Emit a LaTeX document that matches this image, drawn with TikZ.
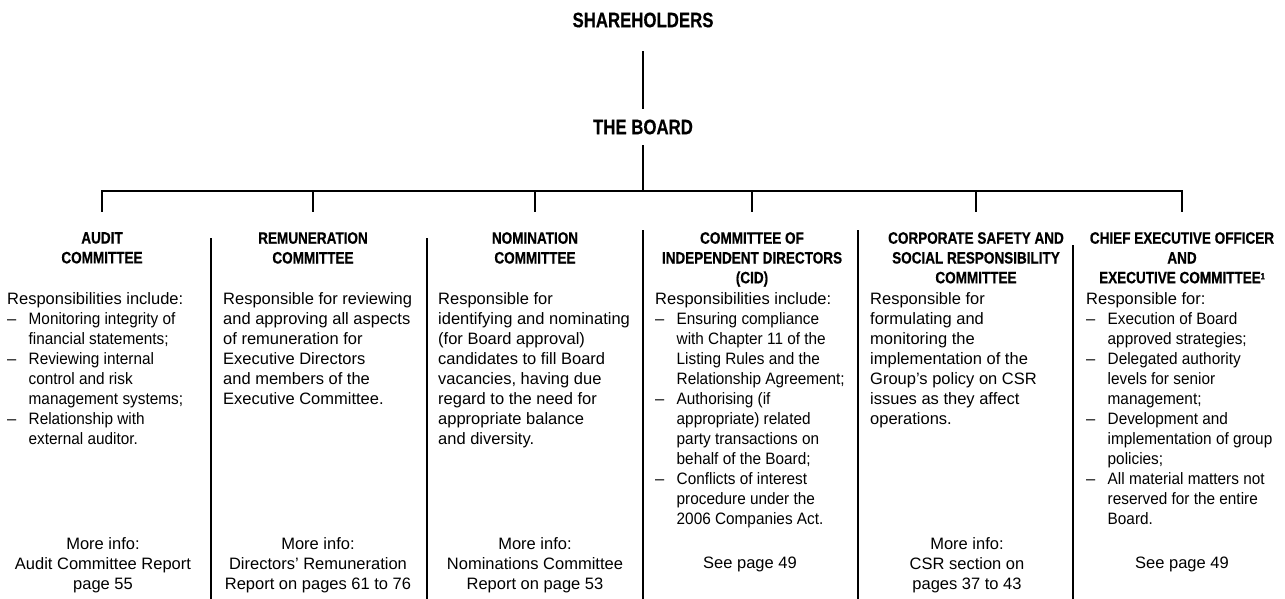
\documentclass[tikz,border=0pt]{standalone}
\usepackage{fontspec}
\setmainfont{Liberation Sans}
\newfontfamily\hdfont[FakeStretch=0.82,FakeBold=0.6]{Liberation Sans}
\newfontfamily\topfont[FakeStretch=0.8,FakeBold=0.4]{Liberation Sans}
\newfontfamily\bulfont[FakeStretch=0.93]{Liberation Sans}
\newcommand{\bl}[1]{\makebox[21.5pt][l]{–}{\bulfont #1}}
\newcommand{\ct}[1]{\hspace*{21.5pt}{\bulfont #1}}
\newcommand{\fnmark}{\raisebox{4pt}{\fontsize{9}{9}\selectfont 1}}
\begin{document}
\begin{tikzpicture}[x=1pt,y=-1pt,
  tree/.style={line width=1.7pt},
  sepline/.style={line width=1.1pt},
  topbox/.style={font=\topfont\bfseries\fontsize{21}{24}\selectfont, inner xsep=0pt, align=center},
  headbox/.style={font=\hdfont\bfseries\fontsize{16.5}{19.8}\selectfont, inner sep=0pt, align=center, anchor=north},
  bodybox/.style={font=\fontsize{16.5}{20}\selectfont, inner sep=0pt, align=left, anchor=north west},
  footbox/.style={font=\fontsize{16.5}{20}\selectfont, inner sep=0pt, align=center, anchor=north},
  drop/.style={tree, shorten >=20pt}
]
\useasboundingbox (0,0) rectangle (1285,599);

% top of the tree
\node[topbox, inner ysep=23.5pt] (sh) at (643,20) {SHAREHOLDERS};
\node[topbox, inner ysep=10.5pt] (bd) at (643,127) {THE BOARD};
\coordinate (bus) at (643,191);

% column headers
\node[headbox] (h1) at (102,232) {AUDIT\\COMMITTEE};
\node[headbox] (h2) at (313,232) {REMUNERATION\\COMMITTEE};
\node[headbox] (h3) at (535,232) {NOMINATION\\COMMITTEE};
\node[headbox] (h4) at (752,232) {COMMITTEE OF\\INDEPENDENT DIRECTORS\\(CID)};
\node[headbox] (h5) at (976,232) {CORPORATE SAFETY AND\\SOCIAL RESPONSIBILITY\\COMMITTEE};
\node[headbox] (h6) at (1182,232) {CHIEF EXECUTIVE OFFICER\\AND\\EXECUTIVE COMMITTEE\fnmark};

% connectors
\draw[tree] (sh) -- (bd);
\draw[tree] (bd) -- (bus);
\draw[drop] (bus) -| (h1.north);
\draw[drop] (bus) -| (h2.north);
\draw[drop] (bus) -| (h3.north);
\draw[drop] (bus) -| (h4.north);
\draw[drop] (bus) -| (h5.north);
\draw[drop] (bus) -| (h6.north);

% column separators
\foreach \sx/\sy in {211/238,427/238,643/230,858/230,1073/245}
  \draw[sepline] (\sx,\sy) -- (\sx,599);

% bodies
\node[bodybox] (b1) at (7,292) {Responsibilities include:\\
\bl{Monitoring integrity of}\\
\ct{financial statements;}\\
\bl{Reviewing internal}\\
\ct{control and risk}\\
\ct{management systems;}\\
\bl{Relationship with}\\
\ct{external auditor.}};

\node[bodybox] (b2) at (223,292) {Responsible for reviewing\\
and approving all aspects\\
of remuneration for\\
Executive Directors\\
and members of the\\
Executive Committee.};

\node[bodybox] (b3) at (438,292) {Responsible for\\
identifying and nominating\\
(for Board approval)\\
candidates to fill Board\\
vacancies, having due\\
regard to the need for\\
appropriate balance\\
and diversity.};

\node[bodybox] (b4) at (655,292) {Responsibilities include:\\
\bl{Ensuring compliance}\\
\ct{with Chapter 11 of the}\\
\ct{Listing Rules and the}\\
\ct{Relationship Agreement;}\\
\bl{Authorising (if}\\
\ct{appropriate) related}\\
\ct{party transactions on}\\
\ct{behalf of the Board;}\\
\bl{Conflicts of interest}\\
\ct{procedure under the}\\
\ct{2006 Companies Act.}};

\node[bodybox] (b5) at (870,292) {Responsible for\\
formulating and\\
monitoring the\\
implementation of the\\
Group's policy on CSR\\
issues as they affect\\
operations.};

\node[bodybox] (b6) at (1086,292) {Responsible for:\\
\bl{Execution of Board}\\
\ct{approved strategies;}\\
\bl{Delegated authority}\\
\ct{levels for senior}\\
\ct{management;}\\
\bl{Development and}\\
\ct{implementation of group}\\
\ct{policies;}\\
\bl{All material matters not}\\
\ct{reserved for the entire}\\
\ct{Board.}};

% footers
\node[footbox] (f1) at (103,537) {More info:\\Audit Committee Report\\page 55};
\node[footbox] (f2) at (318,537) {More info:\\Directors' Remuneration\\Report on pages 61 to 76};
\node[footbox] (f3) at (535,537) {More info:\\Nominations Committee\\Report on page 53};
\node[footbox] (f4) at (750,557) {See page 49};
\node[footbox] (f5) at (967,537) {More info:\\CSR section on\\pages 37 to 43};
\node[footbox] (f6) at (1182,557) {See page 49};
\end{tikzpicture}
\end{document}
